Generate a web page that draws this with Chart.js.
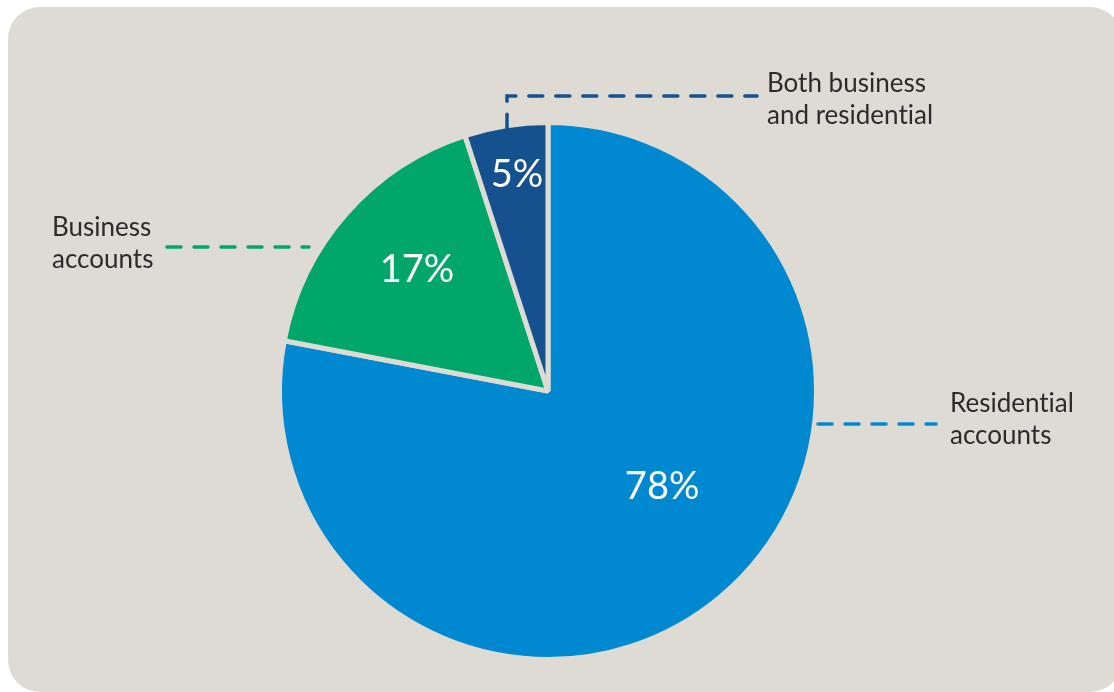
<!DOCTYPE html>
<html>
<head>
<meta charset="utf-8">
<script src="https://cdn.jsdelivr.net/npm/chart.js@4"></script>
<style>
  html, body { margin: 0; padding: 0; background: #fff; overflow: hidden; }
  #panel {
    position: absolute; left: 8px; top: 7px; width: 1114px; height: 685px;
    background: #dedbd5; border-radius: 32px;
  }
  #chart { position: absolute; left: 0; top: 0; }
</style>
</head>
<body>
<div id="panel"></div>
<canvas id="chart" width="1114" height="692"></canvas>
<script>
const categories = ['Residential accounts', 'Business accounts', 'Both business and residential'];
const shares = [78, 17, 5];
const sliceColors = ['#0089d1', '#00a66a', '#16518f'];
const panelColor = '#dedbd5';

// where each percent sits inside its slice: angle (deg, clockwise from 3 o'clock) and fraction of radius
const pctSpots = [
  { ang: 40, rad: 0.56 },
  { ang: 222.7, rad: 0.67 },
  { ang: 261.8, rad: 0.82 }
];

// ZWNJ keeps Lato from fusing "ti" into a ligature
const noLig = s => s.replace(/ti/g, 't\u200Ci');

const calloutPlugin = {
  id: 'callouts',
  afterDraw(chart) {
    const ctx = chart.ctx;
    const arc = chart.getDatasetMeta(0).data[0];
    const cx = arc.x, cy = arc.y;
    const R = arc.outerRadius - 2.5;

    // percentages
    ctx.save();
    ctx.fillStyle = '#ffffff';
    ctx.font = '400 38px Lato';
    ctx.textAlign = 'center';
    ctx.textBaseline = 'middle';
    shares.forEach((v, i) => {
      const a = pctSpots[i].ang * Math.PI / 180;
      const r = pctSpots[i].rad * R;
      ctx.fillText(v + '%', cx + r * Math.cos(a), cy + r * Math.sin(a));
    });
    ctx.restore();

    // dashed leader lines
    ctx.save();
    ctx.lineWidth = 3.5;
    ctx.lineCap = 'round';
    ctx.setLineDash([14, 13]);

    ctx.strokeStyle = sliceColors[0];
    ctx.beginPath();
    ctx.moveTo(cx + R + 4, cy + 33);
    ctx.lineTo(cx + R + 122, cy + 33);
    ctx.stroke();

    ctx.strokeStyle = sliceColors[1];
    ctx.beginPath();
    ctx.moveTo(cx - R - 115, cy - 144);
    ctx.lineTo(cx - R + 27, cy - 144);
    ctx.stroke();

    ctx.strokeStyle = sliceColors[2];
    ctx.beginPath();
    ctx.moveTo(cx - 41, cy - Math.sqrt(R * R - 41 * 41));
    ctx.lineTo(cx - 41, cy - 295);
    ctx.lineTo(cx + 209, cy - 295);
    ctx.stroke();
    ctx.restore();

    // category labels
    ctx.save();
    ctx.fillStyle = '#2b2b2b';
    ctx.font = '400 26px Lato';
    ctx.textAlign = 'left';
    ctx.textBaseline = 'alphabetic';
    ctx.fillText(noLig('Residential'), cx + R + 136, cy + 21);
    ctx.fillText('accounts', cx + R + 136, cy + 53);
    ctx.fillText('Business', cx - R - 230, cy - 155);
    ctx.fillText('accounts', cx - R - 230, cy - 123);
    ctx.fillText('Both business', cx + 219, cy - 299);
    ctx.fillText(noLig('and residential'), cx + 219, cy - 267);
    ctx.restore();
  }
};

new Chart(document.getElementById('chart'), {
  type: 'pie',
  data: {
    labels: categories,
    datasets: [{
      data: shares,
      backgroundColor: sliceColors,
      borderColor: panelColor,
      borderWidth: 5
    }]
  },
  options: {
    responsive: false,
    animation: false,
    layout: { padding: { left: 277, right: 295, top: 120, bottom: 30 } },
    plugins: {
      legend: { display: false },
      tooltip: { enabled: false }
    }
  },
  plugins: [calloutPlugin]
});
</script>
</body>
</html>
